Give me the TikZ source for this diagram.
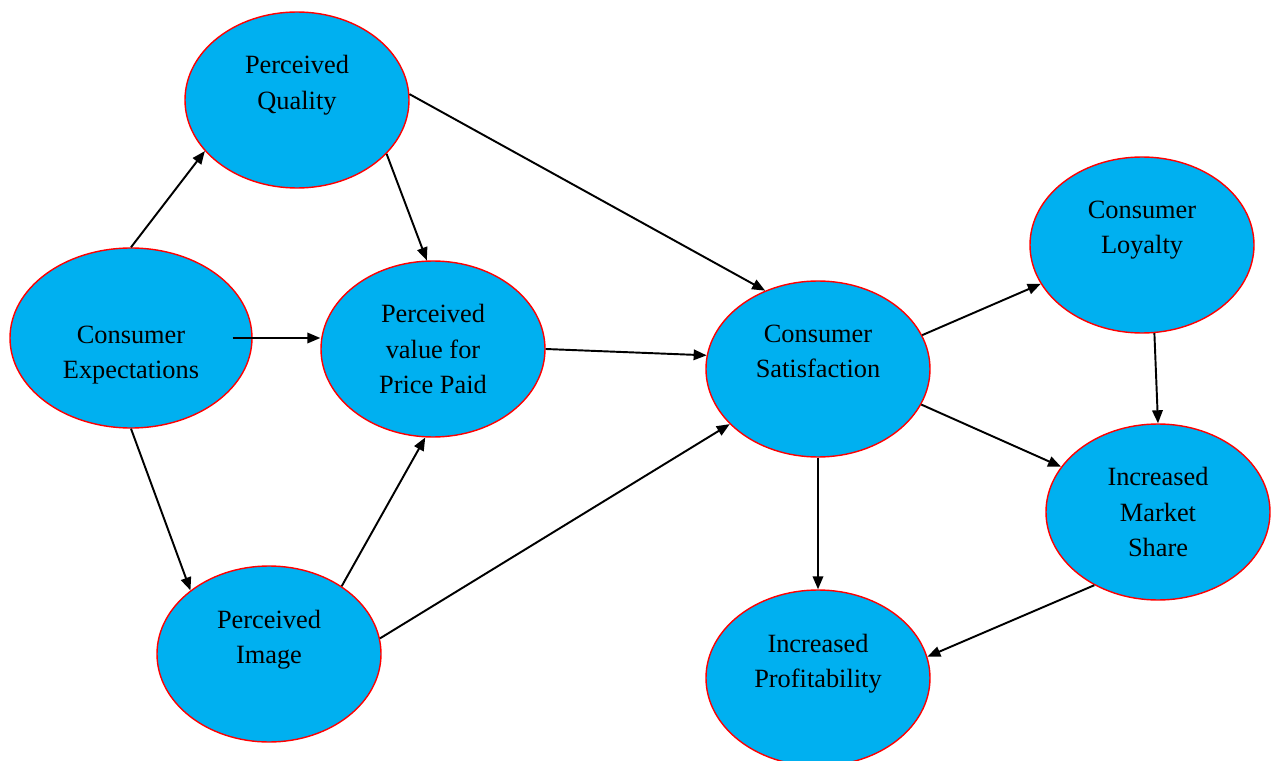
\documentclass[tikz,border=0pt]{standalone}
\usepackage{fontspec}
\setmainfont{Liberation Serif}
\usetikzlibrary{shapes.geometric, arrows.meta}

\definecolor{bubblefill}{HTML}{00B0F0}

\begin{document}
\begin{tikzpicture}
  \tikzset{
    bubble/.style={
      draw=red, line width=0.8pt, ellipse, fill=bubblefill, inner sep=0pt,
      minimum width=4.48cm, minimum height=3.52cm, align=center,
      font=\fontsize{15}{20}\selectfont
    },
    wbubble/.style={
      bubble, minimum width=4.84cm, minimum height=3.6cm
    },
    arr/.style={
      draw, line width=1.1pt, -{Triangle[length=2.6mm, width=2.1mm]}
    }
  }

  \useasboundingbox (0,0) rectangle (25.42,15.2);

  \node [bubble] (quality) at (5.94, 13.2) {Perceived\\Quality\\\mbox{}};
  \node [wbubble] (expect) at (2.62, 8.44) {\mbox{}\\[9pt]Consumer\\Expectations};
  \node [bubble] (value) at (8.66, 8.22) {Perceived\\value for\\Price Paid};
  \node [bubble] (image) at (5.38, 2.12) {Perceived\\Image\\\mbox{}};
  \node [bubble] (satisf) at (16.36, 7.82) {Consumer\\Satisfaction\\\mbox{}};
  \node [bubble] (loyal) at (22.84, 10.30) {Consumer\\Loyalty\\\mbox{}};
  \node [bubble] (market) at (23.16, 4.96) {Increased\\Market\\Share};
  \node [bubble] (profit) at (16.36, 1.64) {Increased\\Profitability\\\mbox{}};

  % connectors, by anchor angle on each ellipse
  \foreach \a/\b in {expect.north/quality.209, quality.-31/value.94,
      quality.3/satisf.124, expect.south/image.141, image.43/value.265,
      value.east/satisf.173, image.8/satisf.212, satisf.18/loyal.201,
      satisf.-19/market.155, satisf.south/profit.north,
      loyal.278/market.north, market.229/profit.11} {
    \path (\a) edge [arr] (\b);
  }
  \path (expect.east) edge [arr, shorten <=-0.4cm] (expect.east -| value.west);
\end{tikzpicture}
\end{document}
